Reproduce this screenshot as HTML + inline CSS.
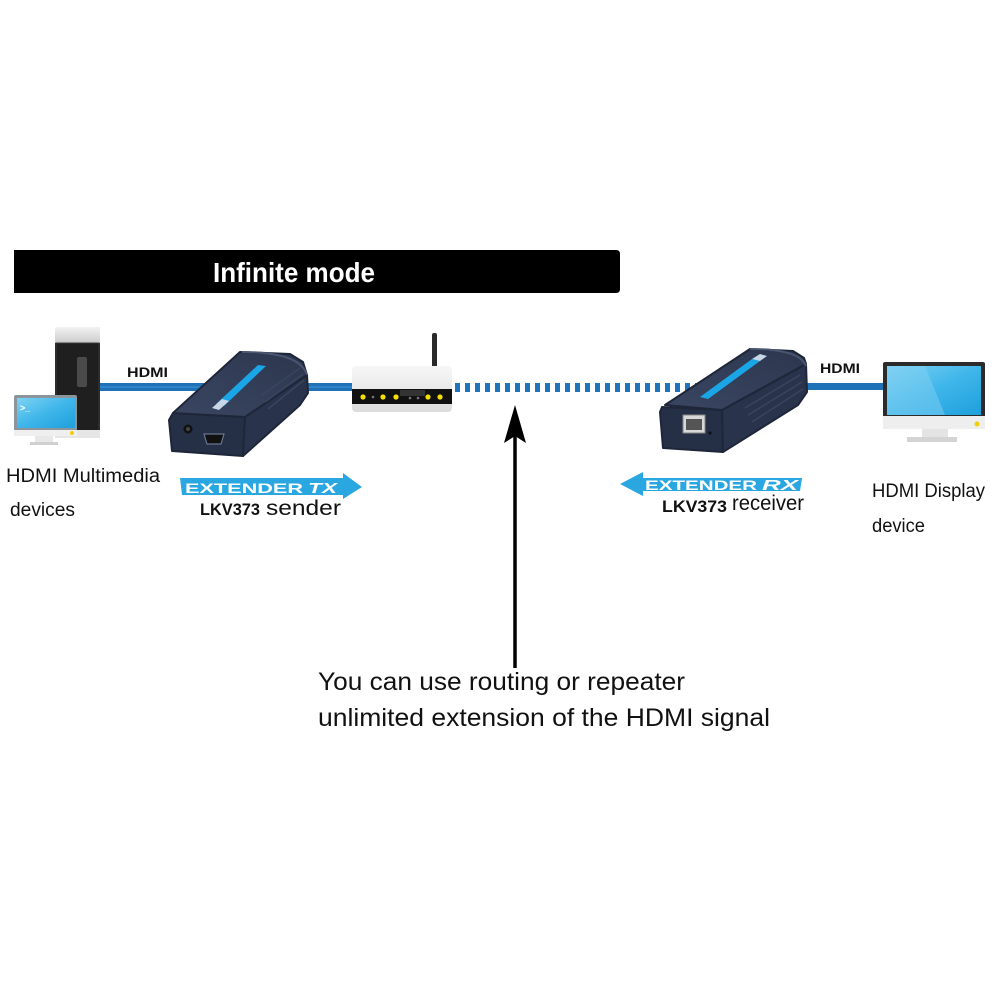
<!DOCTYPE html>
<html><head><meta charset="utf-8">
<style>
html,body{margin:0;padding:0;background:#fff;}
svg{display:block;}
text{font-family:"Liberation Sans",Arial,sans-serif;}
</style></head>
<body>
<svg width="1000" height="1000" viewBox="0 0 1000 1000" xmlns="http://www.w3.org/2000/svg">
<defs>
  <linearGradient id="scr" x1="0" y1="0" x2="1" y2="1">
    <stop offset="0" stop-color="#7fd3f3"/>
    <stop offset="0.5" stop-color="#3fb6ea"/>
    <stop offset="1" stop-color="#1e9fdc"/>
  </linearGradient>
  <linearGradient id="cap" x1="0" y1="0" x2="0" y2="1">
    <stop offset="0" stop-color="#f2f2f2"/>
    <stop offset="1" stop-color="#c9c9c9"/>
  </linearGradient>
  <linearGradient id="rt" x1="0" y1="0" x2="0" y2="1">
    <stop offset="0" stop-color="#f7f7f7"/>
    <stop offset="1" stop-color="#dcdcdc"/>
  </linearGradient>
  <linearGradient id="top" x1="0" y1="1" x2="1" y2="0">
    <stop offset="0" stop-color="#3a4662"/>
    <stop offset="1" stop-color="#2c364e"/>
  </linearGradient>
</defs>

<!-- Title bar -->
<path d="M14 250 H616 Q620 250 620 254 V289 Q620 293 616 293 H14 Z" fill="#000"/>
<text x="213" y="282" font-size="28" font-weight="bold" fill="#fff" textLength="162" lengthAdjust="spacingAndGlyphs">Infinite mode</text>

<!-- HDMI lines -->
<rect x="96" y="383" width="258" height="8" fill="#1f72b8"/>
<rect x="96" y="386" width="258" height="2" fill="#3b8fd0" opacity="0.6"/>
<rect x="770" y="383" width="116" height="7" fill="#1f72b8"/>
<!-- dashed network line -->
<line x1="455" y1="387.5" x2="700" y2="387.5" stroke="#1f74bb" stroke-width="9" stroke-dasharray="5 5"/>

<!-- Tower PC -->
<rect x="55" y="327" width="45" height="17" rx="2" fill="url(#cap)"/>
<rect x="55" y="343" width="45" height="94" fill="#1f1f1f"/>
<rect x="56" y="343" width="43" height="94" fill="none" stroke="#3a3a3a" stroke-width="1"/>
<rect x="77" y="357" width="10" height="30" rx="2" fill="#4a4a4a"/>
<rect x="55" y="430" width="45" height="8" fill="#e6e6e6"/>

<!-- Laptop -->
<rect x="14" y="395" width="63" height="36" rx="2" fill="#8c959c"/>
<rect x="17" y="398" width="58" height="30" fill="url(#scr)"/>
<text x="20" y="411" font-size="9" fill="#fff" font-weight="bold">&gt;_</text>
<rect x="14" y="430" width="63" height="6" fill="#efefef"/>
<circle cx="72" cy="433" r="2" fill="#f2d000"/>
<rect x="35" y="436" width="18" height="6" fill="#e8e8e8"/>
<rect x="30" y="442" width="28" height="3" fill="#d0d0d0"/>

<text x="127" y="377" font-size="14" font-weight="bold" fill="#111" textLength="41" lengthAdjust="spacingAndGlyphs">HDMI</text>

<!-- Sender device -->
<g stroke="#1e2639" stroke-width="2" stroke-linejoin="round">
<polygon points="173,413 245,417 243,456 172,451 169,420" fill="#252f46"/>
<polygon points="245,417 307,375 308,393 300,405 243,456" fill="#29334b"/>
<polygon points="173,413 240,352 290,354 303,362 307,375 245,417" fill="url(#top)"/>
</g>
<path d="M242 352 Q300 352 307 375" fill="none" stroke="#4a5670" stroke-width="2"/>
<polygon points="216,404 258,365 266,366 224,406" fill="#1aa6e6"/>
<polygon points="212,408 222,399 229,401 219,410" fill="#c9d6e6"/>
<path d="M262 395 L300 368 M265 402 L303 374 M268 409 L304 380" stroke="#39445e" stroke-width="1.5"/>
<circle cx="188" cy="429" r="4.5" fill="#111"/>
<circle cx="188" cy="429" r="2" fill="#444"/>
<path d="M204 434 H224 L221 444 H207 Z" fill="#111" stroke="#6a7590" stroke-width="1.2"/>

<!-- Router -->
<rect x="432" y="333" width="5" height="36" rx="2" fill="#2a2a2a"/>
<rect x="352" y="366" width="100" height="46" rx="4" fill="url(#rt)"/>
<rect x="352" y="389" width="100" height="15" fill="#111"/>
<rect x="400" y="390" width="25" height="6" fill="#333"/>
<circle cx="363" cy="397" r="2.6" fill="#f3e000"/>
<circle cx="383" cy="397" r="2.6" fill="#f3e000"/>
<circle cx="396" cy="397" r="2.6" fill="#f3e000"/>
<circle cx="428" cy="397" r="2.6" fill="#f3e000"/>
<circle cx="440" cy="397" r="2.6" fill="#f3e000"/>
<circle cx="373" cy="397" r="1.3" fill="#777"/>
<circle cx="410" cy="398" r="1.3" fill="#777"/>
<circle cx="418" cy="398" r="1.3" fill="#777"/>

<!-- Receiver device -->
<g stroke="#1e2639" stroke-width="2" stroke-linejoin="round">
<polygon points="662,407 722,410 723,452 663,448 660,412" fill="#252f46"/>
<polygon points="722,410 806,364 807,392 798,405 723,452" fill="#29334b"/>
<polygon points="665,405 750,349 793,351 804,358 806,364 722,410" fill="url(#top)"/>
</g>
<path d="M750 349 Q800 349 806 366" fill="none" stroke="#4a5670" stroke-width="2"/>
<polygon points="700,397 752,359 760,361 708,399" fill="#1aa6e6"/>
<polygon points="752,359 760,354 767,356 760,361" fill="#c9d6e6"/>
<path d="M745 408 L800 375 M748 415 L802 382 M752 422 L803 389" stroke="#39445e" stroke-width="1.5"/>
<rect x="683" y="415" width="22" height="18" fill="#d8d8d8" stroke="#888" stroke-width="1"/>
<rect x="686" y="419" width="16" height="11" fill="#555"/>
<circle cx="710" cy="433" r="1.6" fill="#111"/>

<text x="820" y="373" font-size="14" font-weight="bold" fill="#111" textLength="40" lengthAdjust="spacingAndGlyphs">HDMI</text>

<!-- Monitor -->
<rect x="883" y="362" width="102" height="58" rx="2" fill="#2b2b2b"/>
<rect x="887" y="366" width="94" height="49" fill="url(#scr)"/>
<polygon points="887,366 925,366 945,415 887,415" fill="#7fd0f2" opacity="0.5"/>
<rect x="883" y="416" width="102" height="13" fill="#eeeeee"/>
<circle cx="977" cy="424" r="2.5" fill="#f2d000"/>
<rect x="922" y="429" width="26" height="9" fill="#e4e4e4"/>
<rect x="907" y="437" width="50" height="5" fill="#d4d4d4"/>

<!-- Labels -->
<text x="6" y="482" font-size="19" fill="#111" textLength="154" lengthAdjust="spacingAndGlyphs">HDMI Multimedia</text>
<text x="10" y="516" font-size="19" fill="#111" textLength="65" lengthAdjust="spacingAndGlyphs">devices</text>

<text x="872" y="497" font-size="19" fill="#111" textLength="113" lengthAdjust="spacingAndGlyphs">HDMI Display</text>
<text x="872" y="532" font-size="19" fill="#111" textLength="53" lengthAdjust="spacingAndGlyphs">device</text>

<!-- TX arrow -->
<polygon points="180,478 343,478 343,473 362,487 343,499 343,495 182,495" fill="#2aa7e0"/>
<text x="185" y="493" font-size="14" font-weight="bold" fill="#fff" textLength="118" lengthAdjust="spacingAndGlyphs">EXTENDER</text>
<text x="308" y="493" font-size="15" font-weight="bold" font-style="italic" fill="#fff" textLength="29" lengthAdjust="spacingAndGlyphs">TX</text>
<text x="200" y="515" font-size="17" font-weight="bold" fill="#111" textLength="60" lengthAdjust="spacingAndGlyphs">LKV373</text>
<text x="266" y="515" font-size="21" fill="#111" textLength="75" lengthAdjust="spacingAndGlyphs">sender</text>

<!-- RX arrow -->
<polygon points="802,478 643,478 643,472 620,484 643,496 643,491 800,491" fill="#2aa7e0"/>
<text x="645" y="490" font-size="14" font-weight="bold" fill="#fff" textLength="112" lengthAdjust="spacingAndGlyphs">EXTENDER</text>
<text x="762" y="490" font-size="15" font-weight="bold" font-style="italic" fill="#fff" textLength="36" lengthAdjust="spacingAndGlyphs">RX</text>
<text x="662" y="512" font-size="17" font-weight="bold" fill="#111" textLength="65" lengthAdjust="spacingAndGlyphs">LKV373</text>
<text x="732" y="510" font-size="21" fill="#111" textLength="72" lengthAdjust="spacingAndGlyphs">receiver</text>

<!-- Vertical arrow -->
<line x1="515" y1="436" x2="515" y2="668" stroke="#000" stroke-width="3.5"/>
<polygon points="515,405 526,443 515,436 504,443" fill="#000"/>

<!-- Bottom text -->
<text x="318" y="690" font-size="25" fill="#111" textLength="367" lengthAdjust="spacingAndGlyphs">You can use routing or repeater</text>
<text x="318" y="726" font-size="25" fill="#111" textLength="452" lengthAdjust="spacingAndGlyphs">unlimited extension of the HDMI signal</text>
</svg>
</body></html>
